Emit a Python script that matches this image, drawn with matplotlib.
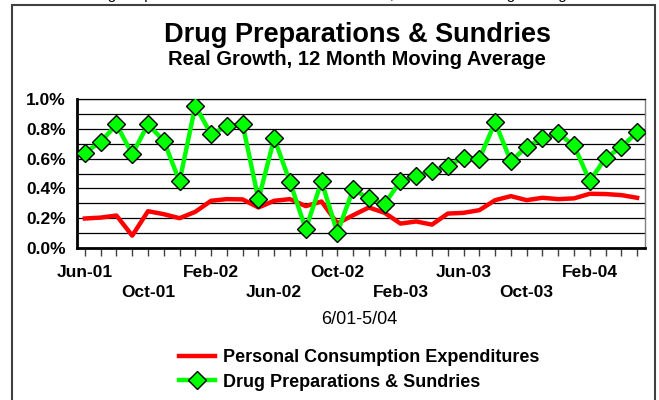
import numpy as np
import matplotlib
matplotlib.use("Agg")
import matplotlib.pyplot as plt
from matplotlib.patches import Rectangle

plt.rcParams['font.family'] = ['Liberation Sans', 'DejaVu Sans']

months = ['Jun-01', 'Jul-01', 'Aug-01', 'Sep-01', 'Oct-01', 'Nov-01', 'Dec-01',
          'Jan-02', 'Feb-02', 'Mar-02', 'Apr-02', 'May-02', 'Jun-02', 'Jul-02',
          'Aug-02', 'Sep-02', 'Oct-02', 'Nov-02', 'Dec-02', 'Jan-03', 'Feb-03',
          'Mar-03', 'Apr-03', 'May-03', 'Jun-03', 'Jul-03', 'Aug-03', 'Sep-03',
          'Oct-03', 'Nov-03', 'Dec-03', 'Jan-04', 'Feb-04', 'Mar-04', 'Apr-04',
          'May-04']

# percent values
pce = [0.198, 0.204, 0.218, 0.083, 0.247, 0.227, 0.200, 0.243, 0.317, 0.328,
       0.326, 0.272, 0.317, 0.328, 0.281, 0.312, 0.165, 0.220, 0.272, 0.236,
       0.164, 0.178, 0.157, 0.231, 0.236, 0.254, 0.321, 0.348, 0.321, 0.337,
       0.328, 0.333, 0.364, 0.362, 0.355, 0.337]
drug = [0.640, 0.712, 0.829, 0.629, 0.829, 0.719, 0.447, 0.955, 0.764, 0.816,
        0.829, 0.326, 0.735, 0.443, 0.126, 0.447, 0.103, 0.393, 0.333, 0.297,
        0.449, 0.481, 0.519, 0.551, 0.607, 0.598, 0.843, 0.582, 0.679, 0.735,
        0.769, 0.688, 0.449, 0.605, 0.676, 0.778]

W, H = 659, 400
fig = plt.figure(figsize=(W / 100, H / 100), dpi=100)

# outer frame of the chart object
fig.patches.append(Rectangle((12 / W, -0.1), 643 / W, 1.1 - 5 / H,
                             transform=fig.transFigure, fill=False,
                             edgecolor='#404040', linewidth=1.5))

# cut-off text at the very top of the picture
fig.text(0.5, 1 + 1.5 / H, 'Drug Preparations and Sundries Real Growth, 12 Month Moving Average',
         ha='center', va='baseline', fontsize=11)

fig.text(0.542, 1 - 35.5 / H, 'Drug Preparations & Sundries', ha='center', va='center',
         fontsize=19.5, fontweight='bold')
fig.text(0.542, 1 - 59.5 / H, 'Real Growth, 12 Month Moving Average', ha='center',
         va='center', fontsize=14.5, fontweight='bold')

ax = fig.add_axes([77 / W, 1 - 248 / H, 568 / W, 149 / H])
x = np.arange(len(months))
l1, = ax.plot(x, pce, color='#ff0000', lw=3.2, solid_joinstyle='round',
              label='Personal Consumption Expenditures', zorder=3)
l2, = ax.plot(x, drug, color='#00ff00', lw=3.2, marker='D', markersize=9,
              markerfacecolor='#00ff00', markeredgecolor='black', markeredgewidth=1,
              label='Drug Preparations & Sundries', zorder=4)

ax.set_xlim(-0.5, len(months) - 0.5)
ax.set_ylim(0, 1.0)
ax.set_yticks(np.arange(0, 1.01, 0.2))
ax.set_yticklabels(['%.1f%%' % v for v in np.arange(0, 1.01, 0.2)],
                   fontsize=12.5, fontweight='bold')
ax.set_yticks(np.arange(0.1, 1.0, 0.2), minor=True)
ax.grid(True, axis='y', which='both', color='black', lw=0.9)
ax.tick_params(axis='y', which='both', length=0, pad=8)

ax.set_xticks(x)
labels = []
for i, m in enumerate(months):
    if i % 4 == 0:
        labels.append(m if (i // 4) % 2 == 0 else '\n' + m)
    else:
        labels.append('')
ax.set_xticklabels(labels, fontsize=12.5, fontweight='bold', linespacing=1.45)
ax.tick_params(axis='x', length=6, width=1, color='#404040', pad=6)

for s in ['left', 'bottom']:
    ax.spines[s].set_linewidth(2)
    ax.spines[s].set_color('black')
ax.spines['top'].set_linewidth(0.9)
ax.spines['right'].set_color('#808080')
ax.spines['right'].set_linewidth(1)
ax.set_axisbelow(True)

fig.text(0.545, 1 - 320 / H, '6/01-5/04', ha='center', va='center', fontsize=13)

fig.legend(handles=[l1, l2], loc='center', bbox_to_anchor=(0.545, 1 - 370 / H),
           frameon=False, prop={'weight': 'bold', 'size': 13},
           handlelength=1.95, handletextpad=0.45, labelspacing=0.4)

fig.savefig('out.png', dpi=100)
